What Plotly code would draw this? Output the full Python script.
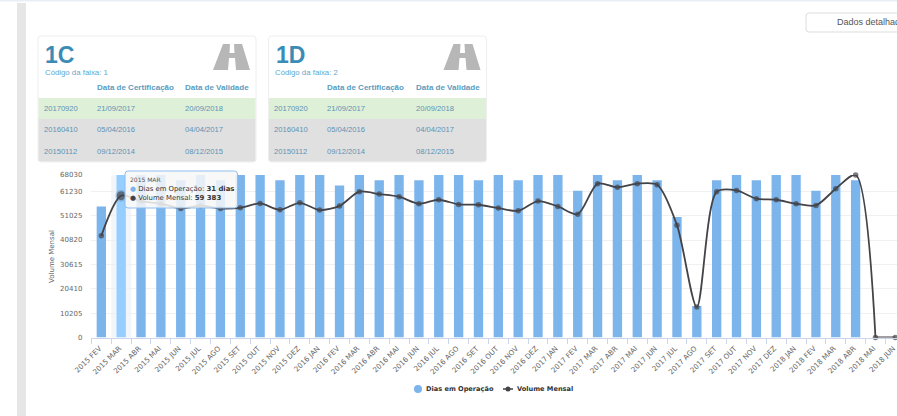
import plotly.graph_objects as go

W, H = 897, 416
months = ["2015 FEV","2015 MAR","2015 ABR","2015 MAI","2015 JUN","2015 JUL","2015 AGO","2015 SET","2015 OUT","2015 NOV","2015 DEZ",
          "2016 JAN","2016 FEV","2016 MAR","2016 ABR","2016 MAI","2016 JUN","2016 JUL","2016 AGO","2016 SET","2016 OUT","2016 NOV","2016 DEZ",
          "2017 JAN","2017 FEV","2017 MAR","2017 ABR","2017 MAI","2017 JUN","2017 JUL","2017 AGO","2017 SET","2017 OUT","2017 NOV","2017 DEZ",
          "2018 JAN","2018 FEV","2018 MAR","2018 ABR","2018 MAI","2018 JUN"]
dias = [25,31,31,31,30,31,30,31,31,30,31,31,29,31,30,31,30,31,31,30,31,30,31,31,28,31,30,31,30,23,6,30,31,30,31,31,28,31,30,0,0]
volume = [42555,59383,57100,56000,54030,55150,54030,54300,56130,53470,56400,53330,55100,61030,60050,58930,55990,57670,55710,55570,
          54170,53050,57110,54870,51650,64390,62850,64390,63970,47030,12740,61030,61590,58090,57670,55990,55290,62290,68030,0,0]
y_ticks = [0,10205,20410,30615,40820,51025,61230,68030]
table_rows = [("20170920","21/09/2017","20/09/2018"),("20160410","05/04/2016","04/04/2017"),("20150112","09/12/2014","08/12/2015")]
cards = [("1C","Código da faixa: 1"),("1D","Código da faixa: 2")]

px = lambda v: v / W
py = lambda v: 1 - v / H
LEFT, STEP = 91.4, 19.85
TOP, BOTTOM = 175, 337.5
idx = list(range(len(months)))

def rrect(x0, y0, x1, y1, r=3):
    pts = f"M{px(x0+r)},{py(y0)} L{px(x1-r)},{py(y0)} Q{px(x1)},{py(y0)} {px(x1)},{py(y0+r)} L{px(x1)},{py(y1-r)} Q{px(x1)},{py(y1)} {px(x1-r)},{py(y1)} L{px(x0+r)},{py(y1)} Q{px(x0)},{py(y1)} {px(x0)},{py(y1-r)} L{px(x0)},{py(y0+r)} Q{px(x0)},{py(y0)} {px(x0+r)},{py(y0)} Z"
    return pts

def poly(points):
    return "M" + " L".join(f"{px(a)},{py(b)}" for a, b in points) + " Z"

shapes, annos = [], []
def rect(x0, y0, x1, y1, fill, line=None, layer="below"):
    shapes.append(dict(type="rect", xref="paper", yref="paper", x0=px(x0), x1=px(x1), y0=py(y0), y1=py(y1), fillcolor=fill,
                       line=dict(color=line or fill, width=1 if line else 0), layer=layer))
def path(d, fill, line=None, layer="below"):
    shapes.append(dict(type="path", xref="paper", yref="paper", path=d, fillcolor=fill,
                       line=dict(color=line or fill, width=1 if line else 0), layer=layer))
def text(x, y, s, size=9, color="#333", anchor="left", family="Liberation Sans", **kw):
    annos.append(dict(xref="paper", yref="paper", x=px(x), y=py(y), text=s, showarrow=False, xanchor=anchor, yanchor="middle",
                      font=dict(size=size, color=color, family=family), borderpad=0, borderwidth=0, **kw))

# page furniture
rect(0, 0, 897, 1.5, "#e9edf4")
rect(17, 3, 26, 416, "#e6e6e6")
path(rrect(806, 13, 905, 32), "#ffffff", "#dddddd")
text(837, 22.5, "Dados detalhados", 9, "#555555")

# cards
for n, (name, code) in enumerate(cards):
    o = n * 230.5
    path(rrect(38+o, 36, 256+o, 162), "#ffffff", "#eeeeee")
    rect(38.5+o, 98, 255.5+o, 119, "#dff0d8")
    path(f"M{px(38.5+o)},{py(119)} L{px(255.5+o)},{py(119)} L{px(255.5+o)},{py(159)} Q{px(255.5+o)},{py(161.5)} {px(253+o)},{py(161.5)} L{px(41+o)},{py(161.5)} Q{px(38.5+o)},{py(161.5)} {px(38.5+o)},{py(159)} Z", "#e0e0e0")
    path(poly([(223+o,44),(242+o,44),(250+o,70),(213+o,70)]), "#b7b7b7")
    path(poly([(230+o,44),(234+o,44),(234.5+o,53),(229.5+o,53)]), "#ffffff")
    path(poly([(229+o,58),(235+o,58),(236+o,70),(228+o,70)]), "#ffffff")
    text(45+o, 55, f"<b>{name}</b>", 23, "#3a8bb5")
    text(44.5+o, 72, code, 7.8, "#62a8cc")
    text(96.5+o, 87, "<b>Data de Certificação</b>", 8, "#5a9cc0")
    text(185+o, 87, "<b>Data de Validade</b>", 8, "#5a9cc0")
    for r, (a, b, c) in enumerate(table_rows):
        y = 108.5 + r * 21.3
        text(43.5+o, y, a, 7.6, "#5b93b5")
        text(96.5+o, y, b, 7.6, "#5b93b5")
        text(185+o, y, c, 7.6, "#5b93b5")

# hover band
shapes.append(dict(type="rect", xref="x", yref="paper", x0=0.5, x1=1.5, y0=py(BOTTOM), y1=py(TOP), fillcolor="rgba(204,214,235,0.25)", line=dict(width=0), layer="below"))

# tooltip
path(rrect(125, 171, 237.5, 208), "rgba(247,247,247,0.86)", "#8dbdee", layer="above")
CF = "DejaVu Sans"
text(130, 179.5, "2015 MAR", 6, "#555555", family=CF)
text(130, 189, '<span style="color:#7cb5ec">●</span> Dias em Operação: <b>31 dias</b>', 6.9, "#333333", family=CF)
text(130, 198, '<span style="color:#434348">●</span> Volume Mensal: <b>59 383</b>', 6.9, "#333333", family=CF)

# y axis title
text(52, 257, "Volume Mensal", 7, "#666666", anchor="center", family=CF, textangle=-90)

# legend
shapes.append(dict(type="circle", xref="paper", yref="paper", x0=px(414), x1=px(422), y0=py(385), y1=py(393), fillcolor="#7cb5ec", line=dict(width=0)))
shapes.append(dict(type="line", xref="paper", yref="paper", x0=px(503), x1=px(513), y0=py(389), y1=py(389), line=dict(color="#434348", width=1.5)))
shapes.append(dict(type="circle", xref="paper", yref="paper", x0=px(505.5), x1=px(510.5), y0=py(386.5), y1=py(391.5), fillcolor="#434348", line=dict(width=0)))
text(426, 389, "<b>Dias em Operação</b>", 6.6, "#333333", family=CF)
text(517, 389, "<b>Volume Mensal</b>", 6.6, "#333333", family=CF)

bar_colors = ["#95ceff" if i == 1 else "#7cb5ec" for i in idx]
line_style = dict(color="#434348", width=1.8)
fig = go.Figure()
fig.add_bar(x=idx, y=dias, name="Dias em Operação", yaxis="y", marker=dict(color=bar_colors, line=dict(width=0)))
fig.add_scatter(x=idx[:40], y=volume[:40], name="Volume Mensal", yaxis="y2", mode="lines", cliponaxis=True,
                line=dict(shape="spline", smoothing=0.8, **line_style))
fig.add_scatter(x=idx[39:], y=volume[39:], name="Volume Mensal", yaxis="y2", mode="lines", cliponaxis=False, line=line_style)
fig.add_scatter(x=idx, y=volume, name="Volume Mensal", yaxis="y2", mode="markers", cliponaxis=False,
                marker=dict(color="#434348", size=[9 if i == 1 else 5.5 for i in idx],
                            line=dict(color=["rgba(67,67,72,0.25)" if i == 1 else "#434348" for i in idx], width=[3 if i == 1 else 0 for i in idx])))

axis_font = dict(size=7.2, color="#666666", family=CF)
fig.update_layout(
    width=W, height=H, autosize=False, margin=dict(l=0, r=0, t=0, b=0, pad=0, autoexpand=False), paper_bgcolor="#ffffff", plot_bgcolor="#ffffff",
    bargap=0.53, shapes=shapes, annotations=annos, showlegend=False,
    xaxis=dict(domain=[px(LEFT), 1], range=[-0.5, (W - LEFT) / STEP - 0.5], tickmode="array", tickvals=idx, ticktext=months, automargin=False,
               tickangle=-45, tickfont=axis_font, ticks="", ticklabeloverflow="allow", ticklabelstandoff=3, ticklabelshift=-2, showgrid=False, zeroline=False, showline=True, linecolor="#ccd6eb", linewidth=1,
               minor=dict(ticks="outside", ticklen=5, tickcolor="#ccd6eb", tickwidth=1, tickmode="array", tickvals=[i - 0.5 for i in idx], showgrid=False)),
    yaxis=dict(domain=[py(BOTTOM), py(TOP)], range=[0, 31], visible=False, showgrid=False, zeroline=False),
    yaxis2=dict(overlaying="y", side="left", range=[0, 68030], tickmode="array", tickvals=y_ticks, ticktext=[str(v) for v in y_ticks], automargin=False,
                tickfont=dict(size=7, color="#666666", family=CF), showgrid=True, gridcolor="#f0f0f0", gridwidth=1, zeroline=False, showline=False, ticks="", ticklabelstandoff=8),
)
fig.write_html("out.html", config=dict(displayModeBar=False),
               post_script="document.body.style.margin='0';document.documentElement.style.overflow='hidden';")
